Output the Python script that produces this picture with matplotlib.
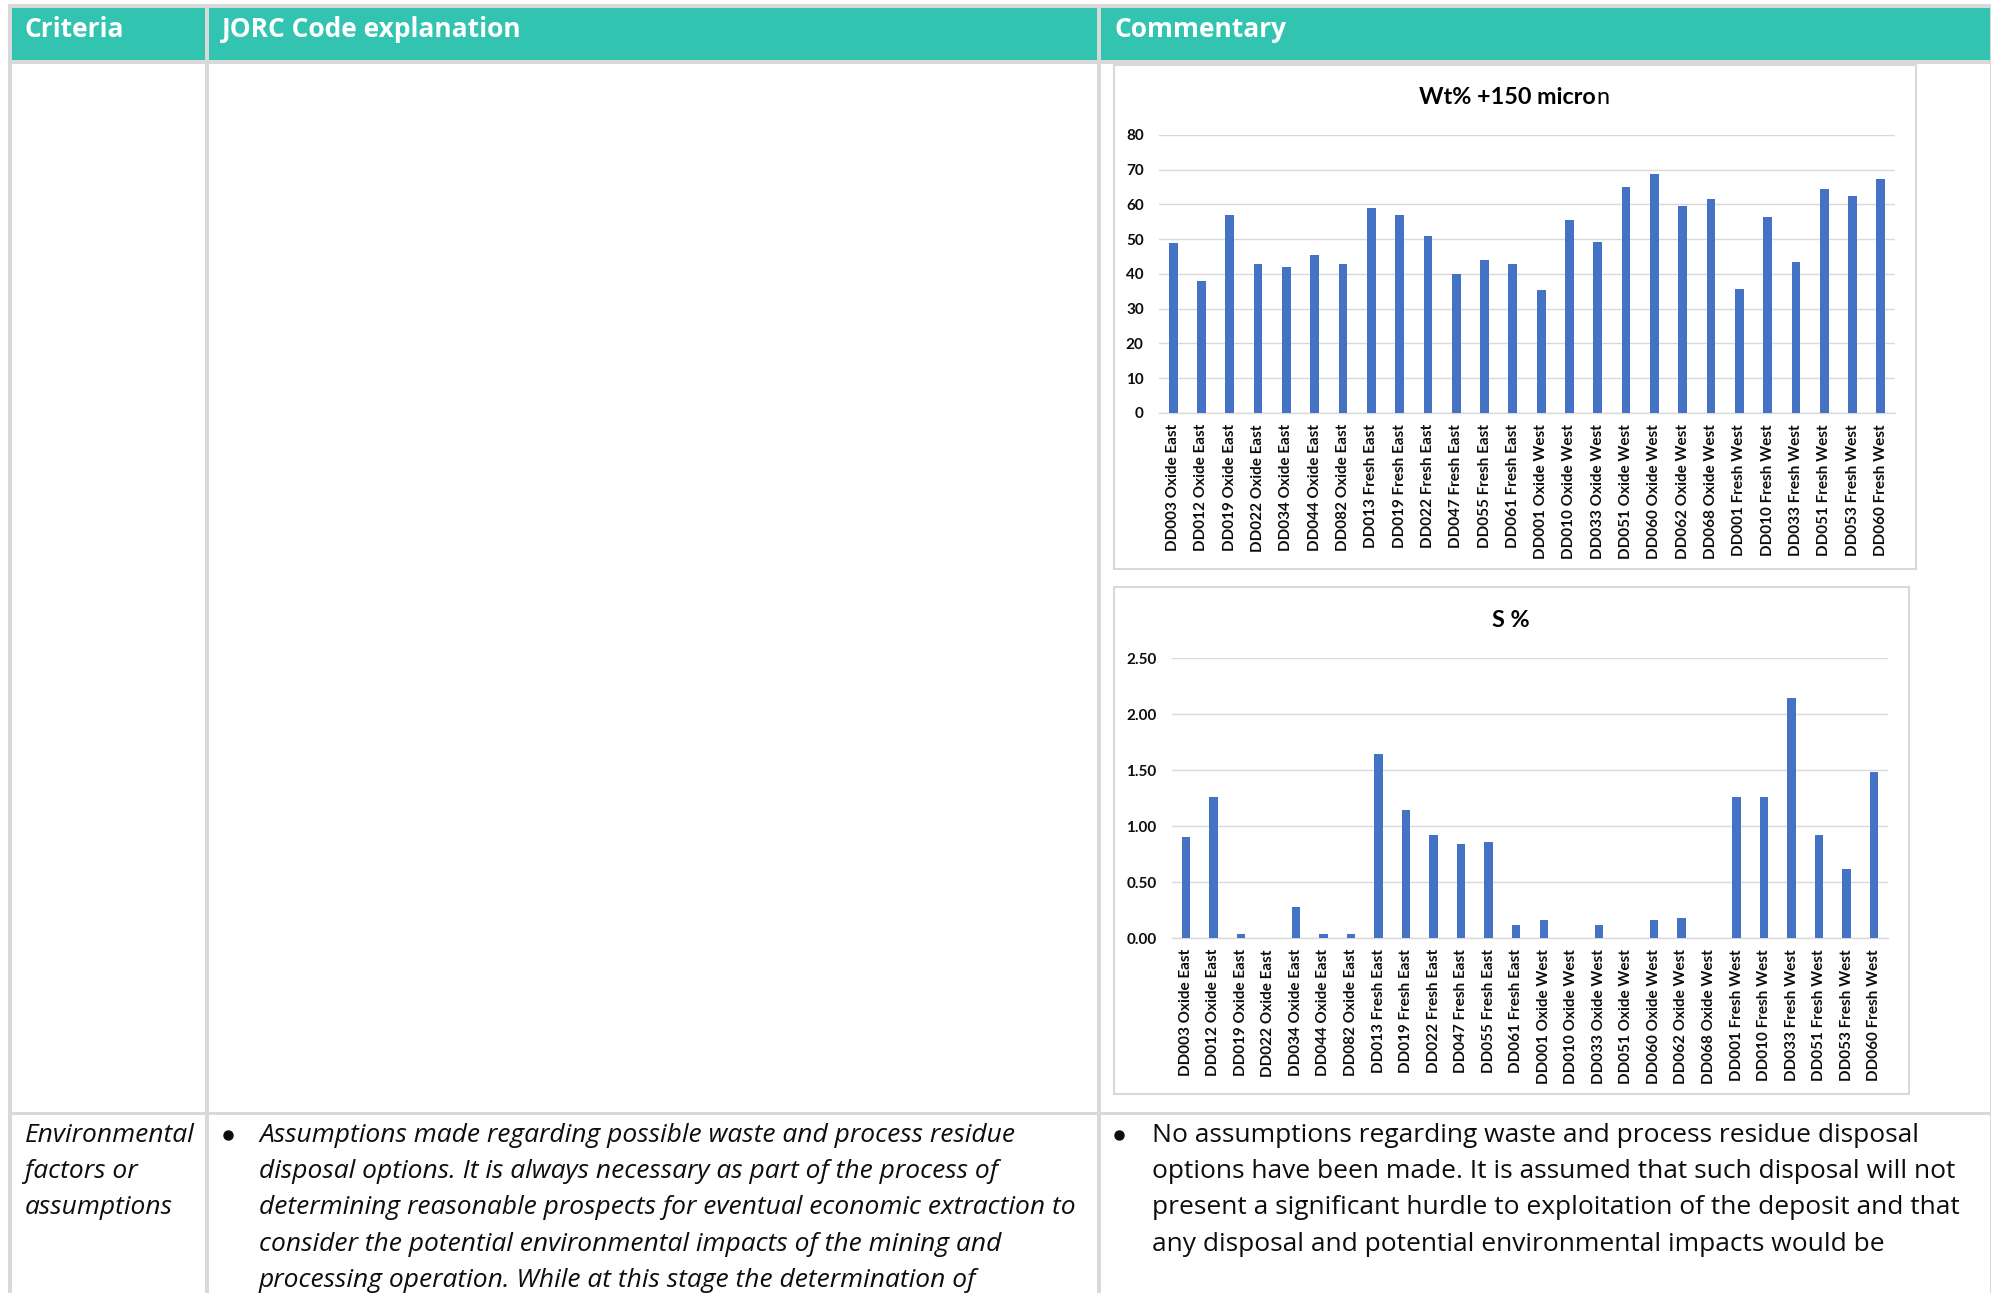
import matplotlib.pyplot as plt
from matplotlib.patches import Rectangle

W, H = 1991, 1293

# Dados dos gráficos
labels = ['DD003 Oxide East', 'DD012 Oxide East', 'DD019 Oxide East', 'DD022 Oxide East',
          'DD034 Oxide East', 'DD044 Oxide East', 'DD082 Oxide East', 'DD013 Fresh East',
          'DD019 Fresh East', 'DD022 Fresh East', 'DD047 Fresh East', 'DD055 Fresh East',
          'DD061 Fresh East', 'DD001 Oxide West', 'DD010 Oxide West', 'DD033 Oxide West',
          'DD051 Oxide West', 'DD060 Oxide West', 'DD062 Oxide West', 'DD068 Oxide West',
          'DD001 Fresh West', 'DD010 Fresh West', 'DD033 Fresh West', 'DD051 Fresh West',
          'DD053 Fresh West', 'DD060 Fresh West']
wt_150 = [49, 38, 57, 43, 42, 45.5, 43, 59, 57, 51, 40, 44, 43, 35.3, 55.5, 49.2,
          65, 68.8, 59.6, 61.5, 35.7, 56.4, 43.4, 64.6, 62.5, 67.2]
s_pct = [0.90, 1.26, 0.04, 0.0, 0.28, 0.04, 0.04, 1.64, 1.14, 0.92, 0.84, 0.86, 0.12,
         0.16, 0.0, 0.12, 0.0, 0.16, 0.18, 0.0, 1.26, 1.26, 2.14, 0.92, 0.62, 1.48]

# Texto da tabela
headers = ['Criteria', 'JORC Code explanation', 'Commentary']
criteria_lines = ['Environmental', 'factors or', 'assumptions']
jorc_lines = ['Assumptions made regarding possible waste and process residue',
              'disposal options. It is always necessary as part of the process of',
              'determining reasonable prospects for eventual economic extraction to',
              'consider the potential environmental impacts of the mining and',
              'processing operation. While at this stage the determination of']
comment_lines = ['No assumptions regarding waste and process residue disposal',
                 'options have been made. It is assumed that such disposal will not',
                 'present a significant hurdle to exploitation of the deposit and that',
                 'any disposal and potential environmental impacts would be']

TEAL = '#32C4B1'
GRAY = '#D9D9D9'
BLUE = '#4472C4'
CHART_FONT = 'Lato'
BODY_SIZE = 19


def frac(l, t, r, b):
    return [l / W, 1 - b / H, (r - l) / W, (b - t) / H]


fig = plt.figure(figsize=(W / 100, H / 100), dpi=100)

# fundo / tabela
bg = fig.add_axes([0, 0, 1, 1])
bg.set_xlim(0, W)
bg.set_ylim(H, 0)
bg.axis('off')

bg.add_patch(Rectangle((8, 4), W - 8, H - 4, color=GRAY, lw=0))
cols = [(12, 205), (209, 1097), (1101, 1990)]
rows = [(8, 60), (64, 1112), (1115, H + 10)]
for i, (t, b) in enumerate(rows):
    for l, r in cols:
        bg.add_patch(Rectangle((l, t), r - l, b - t, color=TEAL if i == 0 else 'white', lw=0))

for (l, r), h in zip(cols, headers):
    bg.text(l + 13, 37, h, color='white', fontsize=19, fontweight='bold',
            family='Open Sans', va='baseline', ha='left')

line_h = 36.2
for k, s in enumerate(criteria_lines):
    bg.text(25, 1142 + k * line_h, s, fontsize=BODY_SIZE, style='italic', family='Open Sans',
            va='baseline', color='#0d0d0d')
bg.plot([228, 1119], [1135, 1135], 'o', color='#0d0d0d', ms=6.5)
for k, s in enumerate(jorc_lines):
    bg.text(259, 1142 + k * line_h, s, fontsize=BODY_SIZE, style='italic', family='Open Sans',
            va='baseline', color='#0d0d0d')
for k, s in enumerate(comment_lines):
    bg.text(1152, 1142 + k * line_h, s, fontsize=BODY_SIZE, family='Open Sans',
            va='baseline', color='#0d0d0d')

# caixas dos gráficos
bg.add_patch(Rectangle((1114, 65), 1916 - 1114, 569 - 65, fc='white', ec=GRAY, lw=1.5))
bg.add_patch(Rectangle((1114, 587), 1909 - 1114, 1094 - 587, fc='white', ec=GRAY, lw=1.5))


def bar_chart(box, values, ymax, step, fmt):
    ax = fig.add_axes(frac(*box))
    x = range(len(values))
    ax.bar(x, values, width=0.31, color=BLUE, zorder=3)
    ax.set_xlim(-0.5, len(values) - 0.5)
    ax.set_ylim(0, ymax)
    ticks = [i * step for i in range(int(round(ymax / step)) + 1)]
    ax.set_yticks(ticks)
    ax.set_yticklabels([fmt.format(t) for t in ticks], fontweight='bold',
                       family=CHART_FONT, fontsize=11, color='#0d0d0d')
    ax.set_xticks(list(x))
    ax.set_xticklabels(labels, rotation=90, fontweight='bold', family=CHART_FONT,
                       fontsize=11, color='#0d0d0d')
    ax.tick_params(length=0)
    ax.tick_params(axis='y', pad=11)
    ax.tick_params(axis='x', pad=8)
    ax.grid(axis='y', color=GRAY, lw=1.0, zorder=0)
    for sp in ['top', 'right', 'left']:
        ax.spines[sp].set_visible(False)
    ax.spines['bottom'].set_color(GRAY)
    ax.spines['bottom'].set_linewidth(1.0)
    ax.set_facecolor('none')
    return ax


bar_chart((1159, 135, 1895, 413), wt_150, 80, 10, '{:.0f}')
bar_chart((1172, 658, 1888, 938), s_pct, 2.5, 0.5, '{:.2f}')

# títulos (o "n" final não está em negrito no original)
bg.text(1596, 104, 'Wt% +150 micro', fontsize=16.8, fontweight='bold', family=CHART_FONT,
        ha='right', va='baseline')
bg.text(1596, 104, 'n', fontsize=16.8, family=CHART_FONT, ha='left', va='baseline')
bg.text(1511, 627, 'S %', fontsize=16.8, fontweight='bold', family=CHART_FONT,
        ha='center', va='baseline')

fig.savefig('out.png', dpi=100)
